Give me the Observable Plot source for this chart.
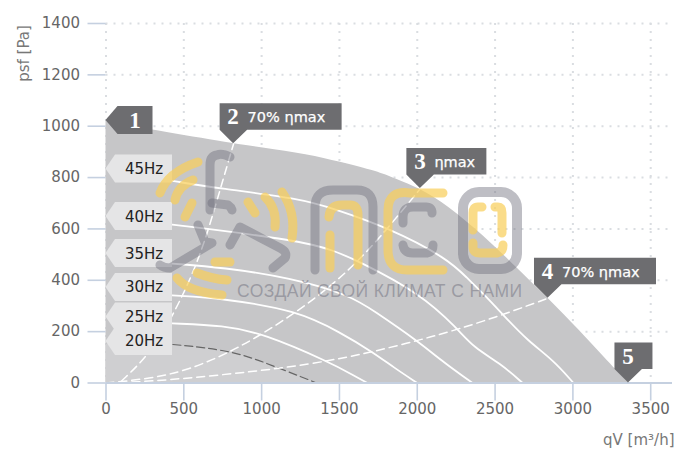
<!DOCTYPE html>
<html>
<head>
<meta charset="utf-8">
<script src="https://cdn.jsdelivr.net/npm/d3@7"></script>
<script src="https://cdn.jsdelivr.net/npm/@observablehq/plot@0.6"></script>
<style>
html,body{margin:0;padding:0;background:#fff}
svg{display:block}
</style>
</head>
<body>
<div id="chart"></div>
<script>
const xTicks = [0,500,1000,1500,2000,2500,3000,3500];
const yTicks = [0,200,400,600,800,1000,1200,1400];

const envelopeQ = [0,305,820,1000,1300,1505,1718,1809,2021,2195,2426,2645,2840,3050,3200,3357];
const envelopeP = [1022,983,932,916,890,860,827,808,757,691,574,446,330,200,100,0];

const hz45Q = [415,735,1250,1462,1809,2195,2323,2426,2555,2709,2876,3004];
const hz45P = [788,757,718,679,606,485,407,347,263,165,88,0];
const hz40Q = [425,1250,1462,1616,2021,2258,2362,2535,2677];
const hz40P = [617,555,516,477,348,212,138,76,0];
const hz35Q = [425,750,1185,1570,1718,2000,2170,2355];
const hz35P = [465,450,410,341,282,165,80,0];
const hz30Q = [425,755,1230,1505,1718,1850,2000];
const hz30P = [341,329,282,197,119,60,0];
const hz25Q = [425,755,1010,1440,1590,1680];
const hz25P = [232,224,193,80,30,0];
const hz20Q = [430,820,1100,1315,1350];
const hz20P = [150,127,60,10,0];

const eff70LeftQ = [100,273,433,607,735,820];
const eff70LeftP = [8,107,263,489,757,932];
const etaMaxQ = [0,285,523,832,1230,1570,1825,2020];
const etaMaxP = [0,17,49,127,275,438,613,757];
const eff70RightQ = [0,330,1140,1505,1718,2000,2258,2555,2840];
const eff70RightP = [0,6,56,95,122,165,208,267,330];

const hzNames = ["45Hz","40Hz","35Hz","30Hz","25Hz","20Hz"];
const hzTipP = [833,648,504,372,257,162];

const calloutNumbers = ["2","3","4","5"];
const calloutTexts = ["70% ηmax","ηmax","70% ηmax",""];
const calloutQ = [820,2020,2840,3357];
const calloutP = [932,757,330,0];
const calloutWidths = [122,80,122,38];

const firstLabel = "1";
const firstQ = 0;
const firstP = 1022;

const sloganText = "СОЗДАЙ СВОЙ КЛИМАТ С НАМИ";

const zip = (qs, ps) => qs.map((q, i) => ({q, p: ps[i]}));
const font = "'DejaVu Sans', sans-serif";
const serif = "'Liberation Serif', serif";

function labels(index, {x, y}) {
  const g = d3.create("svg:g");
  hzNames.forEach((name, i) => {
    const tx = x(0), ty = y(hzTipP[i]);
    const h = 14, r = 172;
    g.append("path")
      .attr("d", `M${tx},${ty}L${tx+9.5},${ty-h}H${r}V${ty+h}H${tx+9.5}Z`)
      .attr("fill", "#e5e5e6");
    g.append("text").text(name)
      .attr("x", 144).attr("y", ty + 5.5)
      .attr("text-anchor", "middle")
      .attr("font-family", font).attr("font-size", 15)
      .attr("fill", "#222");
  });
  const dark = "#6d6d70";
  {
    const tx = x(firstQ), ty = y(firstP);
    g.append("path")
      .attr("d", `M${tx},${ty}L${tx+12},${ty-14}H${tx+47}V${ty+14}H${tx+12}Z`)
      .attr("fill", dark);
    g.append("text").text(firstLabel)
      .attr("x", tx + 29.5).attr("y", ty + 8)
      .attr("text-anchor", "middle")
      .attr("font-family", serif).attr("font-weight", "bold")
      .attr("font-size", 23).attr("fill", "#fff");
  }
  calloutNumbers.forEach((n, i) => {
    const tx = x(calloutQ[i]), ty = y(calloutP[i]);
    const bottom = ty - 13.5, top = bottom - 26.5;
    const left = tx - 13.5, right = left + calloutWidths[i];
    g.append("path")
      .attr("d", `M${tx},${ty}L${left},${bottom}V${top}H${right}V${bottom}H${tx+14}Z`)
      .attr("fill", dark);
    g.append("text").text(n)
      .attr("x", tx).attr("y", top + 21)
      .attr("text-anchor", "middle")
      .attr("font-family", serif).attr("font-weight", "bold")
      .attr("font-size", 23).attr("fill", "#fff");
    if (calloutTexts[i]) {
      g.append("text").text(calloutTexts[i])
        .attr("x", tx + 14.5).attr("y", top + 19)
        .attr("text-anchor", "start")
        .attr("font-family", font).attr("font-size", 14.5)
        .attr("stroke", "#fff").attr("stroke-width", 0.25)
        .attr("fill", "#fff");
    }
  });
  return g.node();
}

function watermark() {
  const g = d3.create("svg:g").attr("fill", "none").attr("stroke-linecap", "round").attr("stroke-linejoin", "round");
  const grey = [
    "M230,157Q222,153 217,155Q210,156 210,165V210",
    "M212,203L228,205Q231,207 232,210",
    "M198,225L205,242L212,243L170,268Q164,268 160,265",
    "M230,245L240,227L280,248Q288,252 285,258L273,268",
    "M315,270V207Q315,190 333,190H357Q373,190 373,207V270",
    "M432,213Q432,207 426,207H413Q403,207 403,217V223",
    "M403,245Q404,253 413,253H427Q433,252 433,245"
  ];
  const yellow = [
    "M160,193Q168,172 198,162",
    "M175,200Q178,186 193,180",
    "M185,217L192,203",
    "M248,202L255,213",
    "M265,197Q277,208 275,227",
    "M282,192Q296,212 292,238",
    "M215,262H230",
    "M197,273Q212,279 227,280",
    "M177,278Q188,292 222,295",
    "M330,235V268",
    "M329,217Q330,205 342,205H350Q358,205 358,215V265",
    "M443,193H410Q388,190 388,210V250Q388,270 407,270H443",
    "M482,207H478Q473,207 473,213V230",
    "M495,207H498Q502,207 502,213V233",
    "M473,243V247Q473,253 480,253H497Q503,252 503,245"
  ];
  g.selectAll(null).data(yellow).join("path").attr("d", d => d)
    .attr("stroke", "#f8cf5c").attr("stroke-opacity", 0.72).attr("stroke-width", 9);
  g.selectAll(null).data(grey).join("path").attr("d", d => d)
    .attr("stroke", "#6e6e7c").attr("stroke-opacity", 0.45).attr("stroke-width", 9);
  g.append("rect").attr("x", 463).attr("y", 192).attr("width", 54).attr("height", 77).attr("rx", 16)
    .attr("stroke", "#6e6e7c").attr("stroke-opacity", 0.45).attr("stroke-width", 10);
  g.append("text").text(sloganText)
    .attr("x", 237).attr("y", 297).attr("textLength", 285)
    .attr("text-anchor", "start")
    .attr("font-family", "'Liberation Sans', sans-serif").attr("font-size", 17.5)
    .attr("fill", "#6e6e7c").attr("fill-opacity", 0.5).attr("stroke", "none");
  return g.node();
}

const white = {x: "q", y: "p", stroke: "#fff", strokeWidth: 1.8, curve: "basis"};
const whiteDash = {x: "q", y: "p", stroke: "#fff", strokeWidth: 1.5, strokeDasharray: "8 5", curve: "basis"};
const grid = {stroke: "#dadde1", strokeOpacity: 1, strokeWidth: 2, strokeDasharray: "2 6"};
const axisStyle = {tickSize: 18, stroke: "#c5d0e0", strokeWidth: 1.6, fill: "#666", fontSize: 15, label: null, tickFormat: d => String(d), fontFamily: font};

const chart = Plot.plot({
  width: 682,
  height: 453,
  marginLeft: 105.5,
  marginRight: 10,
  marginTop: 23,
  marginBottom: 70.5,
  style: {background: "#fff", overflow: "visible"},
  x: {domain: [0, 3640], label: null},
  y: {domain: [0, 1400], label: null},
  marks: [
    Plot.gridX(xTicks, grid),
    Plot.gridY(yTicks.slice(1), grid),
    Plot.areaY(zip(envelopeQ, envelopeP), {x: "q", y: "p", fill: "#c6c6c8", curve: "basis"}),
    Plot.areaY(zip([0, ...hz20Q], [hz20P[0], ...hz20P]), {x: "q", y: "p", fill: "#cfcfd1", curve: "basis"}),
    Plot.line(zip(hz45Q, hz45P), white),
    Plot.line(zip(hz40Q, hz40P), white),
    Plot.line(zip(hz35Q, hz35P), white),
    Plot.line(zip(hz30Q, hz30P), white),
    Plot.line(zip(hz25Q, hz25P), white),
    Plot.line(zip(hz20Q, hz20P), {x: "q", y: "p", stroke: "#666", strokeWidth: 1.2, strokeDasharray: "8 4", curve: "basis"}),
    Plot.line(zip(eff70LeftQ, eff70LeftP), whiteDash),
    Plot.line(zip(etaMaxQ, etaMaxP), whiteDash),
    Plot.line(zip(eff70RightQ, eff70RightP), whiteDash),
    Plot.ruleY([0], {stroke: "#c5d0e0", strokeWidth: 2}),
    Plot.axisX({...axisStyle, ticks: xTicks, tickPadding: 2}),
    Plot.axisY({...axisStyle, ticks: yTicks, tickPadding: 8}),
    labels,
    watermark,
    Plot.text(["qV [m³/h]"], {frameAnchor: "bottom-right", dx: 2, dy: 62, textAnchor: "end", fill: "#777", fontSize: 15, fontFamily: font}),
    Plot.text(["psf [Pa]"], {frameAnchor: "top-left", dx: -87.5, dy: 30, rotate: -90, textAnchor: "middle", fill: "#777", fontSize: 15, fontFamily: font})
  ]
});
document.getElementById("chart").appendChild(chart);
</script>
</body>
</html>
